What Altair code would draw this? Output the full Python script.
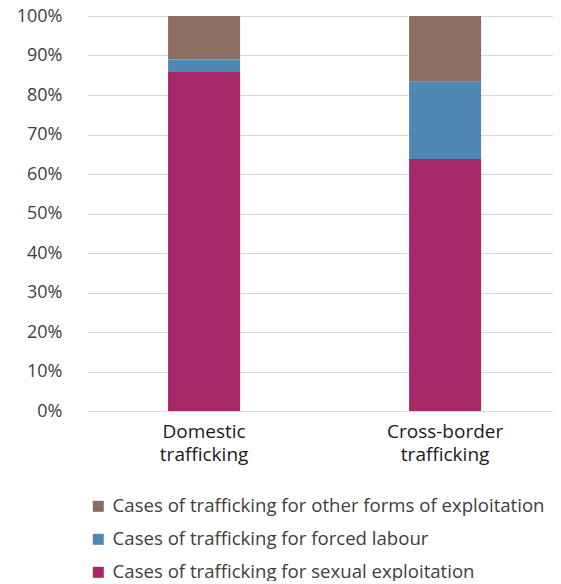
import altair as alt
import pandas as pd

categories = ["Domestic trafficking", "Cross-border trafficking"]
series = [
    "Cases of trafficking for other forms of exploitation",
    "Cases of trafficking for forced labour",
    "Cases of trafficking for sexual exploitation",
]
other = [11.0, 16.5]
forced = [3.2, 19.7]
sexual = [85.8, 63.8]
colors = ["#8C6D61", "#4F87B5", "#A52867"]
stack_order = [2, 1, 0]

rows = []
for i, c in enumerate(categories):
    for s, vals, o in zip(series, [other, forced, sexual], stack_order):
        rows.append({"category": c, "series": s, "value": vals[i] / 100.0, "ord": o})
df = pd.DataFrame(rows)

FONT = "Open Sans"

chart = (
    alt.Chart(df)
    .mark_bar()
    .encode(
        x=alt.X(
            "category:N",
            sort=categories,
            title=None,
            scale=alt.Scale(paddingInner=0.7012, paddingOuter=0.3174, align=0.53),
            axis=alt.Axis(
                labelAngle=0,
                labelExpr="split(datum.value, ' ')",
                labelFontSize=19,
                labelLineHeight=23,
                labelColor="#1a1a1a",
                labelPadding=11,
                labelBaseline="top",
                domain=False,
                ticks=False,
                grid=False,
                labelFont=FONT,
            ),
        ),
        y=alt.Y(
            "value:Q",
            stack="zero",
            title=None,
            scale=alt.Scale(domain=[0, 1], nice=False),
            axis=alt.Axis(
                format=".0%",
                values=[i / 10 for i in range(11)],
                labelFontSize=18,
                labelColor="#404040",
                labelPadding=25,
                labelFont=FONT,
                domain=False,
                ticks=False,
                grid=True,
                gridColor="#D9D9D9",
                gridWidth=1,
            ),
        ),
        color=alt.Color(
            "series:N",
            scale=alt.Scale(domain=series, range=colors),
            legend=alt.Legend(
                title=None,
                orient="none",
                legendX=2,
                legendY=481,
                symbolType="square",
                symbolSize=121,
                symbolStrokeWidth=0,
                symbolOpacity=1,
                labelFontSize=18.6,
                labelFont=FONT,
                labelColor="#404040",
                labelOffset=5,
                rowPadding=14,
                labelLimit=600,
                padding=0,
            ),
        ),
        order=alt.Order("ord:Q", sort="ascending"),
    )
    .properties(
        width=466,
        height=395,
        padding={"left": 79, "top": 8, "right": 0, "bottom": 170},
        autosize=alt.AutoSizeParams(type="none"),
    )
    .configure_view(stroke=None)
)

chart.save("out.html", embed_options={"renderer": "svg", "actions": False})
